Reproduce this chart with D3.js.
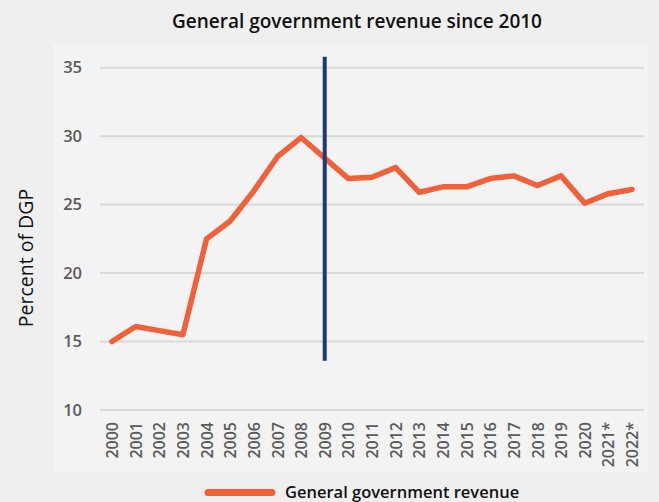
<!DOCTYPE html>
<html>
<head>
<meta charset="utf-8">
<script src="https://cdn.jsdelivr.net/npm/d3@7"></script>
<style>
  html, body { margin: 0; padding: 0; background: #efefef; }
  svg { display: block; }
  text { font-family: "Open Sans", "Noto Sans", sans-serif; }
</style>
</head>
<body>
<svg id="chart" width="659" height="502"></svg>
<script>
// Years on the x axis (starred years are estimates)
const years = ["2000","2001","2002","2003","2004","2005","2006","2007","2008","2009","2010",
  "2011","2012","2013","2014","2015","2016","2017","2018","2019","2020","2021*","2022*"];
// General government revenue, percent of GDP
const revenue = [15.0, 16.1, 15.8, 15.5, 22.5, 23.8, 26.0, 28.5, 29.9, 28.4, 26.9,
  27.0, 27.7, 25.9, 26.3, 26.3, 26.9, 27.1, 26.4, 27.1, 25.1, 25.8, 26.1];
const yTicks = [10, 15, 20, 25, 30, 35];
// Vertical marker at 2009
const markerYear = "2009";
const markerRange = [13.6, 35.8];

const svg = d3.select("#chart");

// Plot panel
svg.append("rect")
  .attr("x", 53).attr("y", 44).attr("width", 595).attr("height", 429)
  .attr("fill", "#f3f3f3");

const x = d3.scalePoint().domain(years).range([112, 632]);
const y = d3.scaleLinear().domain([10, 35]).range([410, 67.7]);

// Title
svg.append("text")
  .attr("x", 357).attr("y", 28)
  .attr("text-anchor", "middle")
  .attr("font-size", 19).attr("font-weight", 600).attr("fill", "#111")
  .text("General government revenue since 2010");

// Gridlines
svg.append("g").selectAll("line").data(yTicks).join("line")
  .attr("x1", 100).attr("x2", 644)
  .attr("y1", d => y(d)).attr("y2", d => y(d))
  .attr("stroke", "#d9d9d9").attr("stroke-width", 2);

// Y axis labels
const yAxis = svg.append("g")
  .attr("transform", "translate(100,0)")
  .call(d3.axisLeft(y).tickValues(yTicks).tickSize(0).tickPadding(18));
yAxis.select(".domain").remove();
yAxis.selectAll("text")
  .attr("font-family", "'Open Sans', sans-serif")
  .attr("font-size", 16.5).attr("font-weight", 600).attr("fill", "#5a5a5a");

// Y axis title
svg.append("text")
  .attr("transform", "translate(33,258) rotate(-90)")
  .attr("text-anchor", "middle")
  .attr("font-size", 19.5).attr("font-weight", 500).attr("fill", "#111")
  .text("Percent of DGP");

// X axis labels (rotated)
const xAxis = svg.append("g")
  .attr("transform", "translate(0,410)")
  .call(d3.axisBottom(x).tickSize(0).tickPadding(0));
xAxis.select(".domain").remove();
xAxis.selectAll("text")
  .attr("font-family", "'Open Sans', sans-serif")
  .attr("font-size", 16).attr("font-weight", 600).attr("fill", "#5a5a5a")
  .attr("text-anchor", "end")
  .attr("dy", "0.35em")
  .attr("transform", "translate(0,12) rotate(-90)")
  .attr("x", 0).attr("y", 0);

// Revenue line
const line = d3.line()
  .x((d, i) => x(years[i]))
  .y(d => y(d));
svg.append("path")
  .datum(revenue)
  .attr("d", line)
  .attr("fill", "none")
  .attr("stroke", "#f2603a")
  .attr("stroke-width", 5.5)
  .attr("stroke-linejoin", "round")
  .attr("stroke-linecap", "round");

// 2009 marker
svg.append("line")
  .attr("x1", x(markerYear)).attr("x2", x(markerYear))
  .attr("y1", y(markerRange[0])).attr("y2", y(markerRange[1]))
  .attr("stroke", "#1f3a6e").attr("stroke-width", 4);

// Legend
svg.append("line")
  .attr("x1", 208).attr("x2", 272).attr("y1", 492.5).attr("y2", 492.5)
  .attr("stroke", "#f2603a").attr("stroke-width", 7).attr("stroke-linecap", "round");
svg.append("text")
  .attr("x", 285).attr("y", 498)
  .attr("font-size", 16.5).attr("font-weight", 600).attr("fill", "#111")
  .text("General government revenue");
</script>
</body>
</html>
